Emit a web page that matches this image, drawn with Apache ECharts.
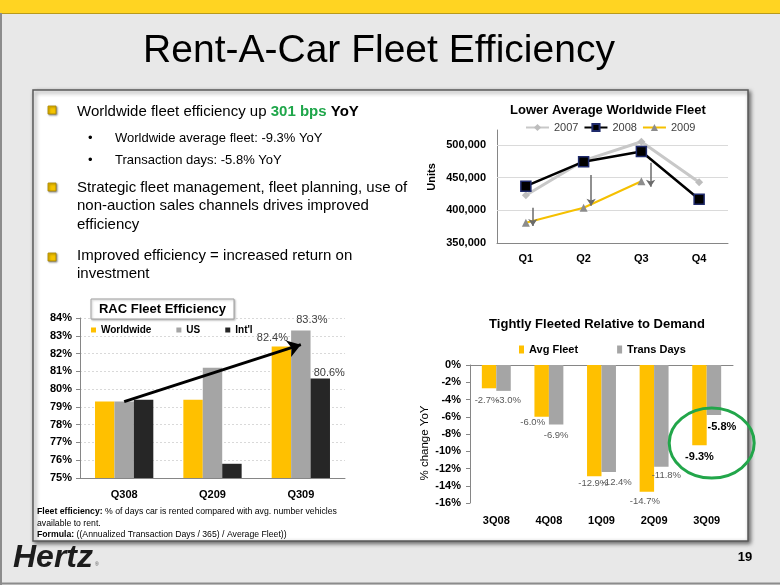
<!DOCTYPE html>
<html><head><meta charset="utf-8">
<script src="https://cdn.jsdelivr.net/npm/echarts@6/dist/echarts.min.js"></script>
<style>html,body{margin:0;padding:0;background:#e8e8e8;}#c{width:780px;height:585px;}</style>
</head><body><div id="c"></div><script>
// ---------- data ----------
const fleetQuarters = ['Q1', 'Q2', 'Q3', 'Q4'];
const fleet2007 = [423000, 476000, 505000, 443000];
const fleet2008 = [437000, 474500, 490000, 417000];
const fleet2009 = [381000, 404000, 444500];
const fleetTicks = [350000, 400000, 450000, 500000];
// drop arrows: [position along quarter axis, from value, to value]
const fleetDropArrows = [[0.62, 404000, 376000], [1.63, 454000, 407000], [2.66, 473000, 436000]];

const racPeriods = ['Q308', 'Q209', 'Q309'];
const racWorldwide = [79.3, 79.4, 82.4];
const racUS = [79.3, 81.2, 83.3];
const racIntl = [79.4, 75.8, 80.6];
const racTrendFrom = ['Q308', 79.3];
const racTrendTo = ['Q309', 82.5];

const demandPeriods = ['3Q08', '4Q08', '1Q09', '2Q09', '3Q09'];
const avgFleet = [-2.7, -6.0, -12.9, -14.7, -9.3];
const transDays = [-3.0, -6.9, -12.4, -11.8, -5.8];

// ---------- layout helpers (not data) ----------
const FF = "'Liberation Sans', Arial, Helvetica, sans-serif";
function hasFont(name) {
  const c = document.createElement('canvas').getContext('2d');
  c.font = '20px monospace'; const a = c.measureText('abcdefghijk WWW mmm').width;
  c.font = "20px '" + name + "', monospace"; return c.measureText('abcdefghijk WWW mmm').width !== a;
}
const narrow = hasFont('Liberation Sans Narrow');
const footFamily = narrow ? "'Liberation Sans Narrow', 'Liberation Sans', Arial" : FF;
const footSize = narrow ? 10.5 : 8.7;

const YELLOW = '#FFC000', GRAY = '#A5A5A5', BLACK = '#262626', AXIS = '#868686';
const fleetNudge = [[-2, 4], [-9, -2], [-1, -1], [-2, 2], [0, 3]];
const daysNudge = [[5, 1], [0, 2.5], [8, 2], [5, 1], [8, 3.5]];
const racNudge = { ww: [-9, 2], us: [11, 0], intl: [9, 5] };

function demandItems(vals, nudge) {
  return vals.map((v, i) => {
    const last = i === vals.length - 1;
    return {
      value: v,
      label: {
        show: true, position: 'bottom', distance: 3, offset: nudge[i],
        formatter: (p) => p.value.toFixed(1) + '%',
        fontFamily: FF, fontSize: last ? 11 : 9.5, fontWeight: last ? 'bold' : 'normal',
        color: last ? '#000' : '#595959'
      }
    };
  });
}
function racItems(vals, nudge) {
  return vals.map((v, i) => {
    const last = i === vals.length - 1;
    return last ? { value: v, label: { show: true, position: 'top', distance: 5, offset: nudge,
      formatter: (p) => p.value.toFixed(1) + '%', fontFamily: FF, fontSize: 11, color: '#404040' } } : v;
  });
}

const txt = (x, y, text, size, opts = {}) => Object.assign({
  type: 'text', x: x, y: y, z: 10,
  style: Object.assign({ text: text, fontSize: size, fontFamily: FF, fill: '#000', align: 'left', verticalAlign: 'middle' }, opts.style || {})
}, opts.el || {});

const bullet = (y) => ({ type: 'rect', z: 10, shape: { x: 48, y: y - 4, width: 8, height: 8 },
  style: { fill: '#F5C400', stroke: '#A88600', lineWidth: 0.8, shadowBlur: 2, shadowColor: 'rgba(0,0,0,0.45)', shadowOffsetX: 1, shadowOffsetY: 1 } });

const richBase = { fontSize: 15, fontFamily: FF, fill: '#000' };

const graphics = [
  // slide background details
  { type: 'rect', z: -20, shape: { x: 0, y: 0, width: 780, height: 13 }, style: { fill: '#FFD422' } },
  { type: 'line', z: -19, shape: { x1: 0, y1: 13.5, x2: 780, y2: 13.5 }, style: { stroke: '#B89A1C', lineWidth: 1 } },
  { type: 'line', z: -19, shape: { x1: 1, y1: 13, x2: 1, y2: 585 }, style: { stroke: '#8c8c8c', lineWidth: 2 } },
  { type: 'line', z: -19, shape: { x1: 0, y1: 583.5, x2: 780, y2: 583.5 }, style: { stroke: '#8c8c8c', lineWidth: 2 } },
  // white panel
  { type: 'rect', z: -15, shape: { x: 33, y: 90, width: 715, height: 451 },
    style: { fill: '#fff', stroke: '#5a5a5a', lineWidth: 1.5, shadowBlur: 4, shadowColor: 'rgba(0,0,0,0.55)', shadowOffsetX: 2, shadowOffsetY: 2 } },
  // title
  txt(379, 51, 'Rent-A-Car Fleet Efficiency', 39, { style: { align: 'center', fill: '#000' } }),
  // bullets
  bullet(110), bullet(187), bullet(257),
  { type: 'text', x: 77, y: 112, z: 10, style: {
      text: 'Worldwide fleet efficiency up {g|301 bps} {b|YoY}', fontSize: 15, fontFamily: FF, fill: '#000', verticalAlign: 'middle',
      rich: { g: Object.assign({}, richBase, { fill: '#1FA64A', fontWeight: 'bold' }), b: Object.assign({}, richBase, { fontWeight: 'bold' }) } } },
  txt(88, 138, '\u2022', 13),
  txt(115, 138, 'Worldwide average fleet: -9.3% YoY', 13),
  txt(88, 160, '\u2022', 13),
  txt(115, 160, 'Transaction days: -5.8% YoY', 13),
  txt(77, 188, 'Strategic fleet management, fleet planning, use of', 15),
  txt(77, 206, 'non-auction sales channels drives improved', 15),
  txt(77, 224.5, 'efficiency', 15),
  txt(77, 256, 'Improved efficiency = increased return on', 15),
  txt(77, 274, 'investment', 15),
  // chart titles
  txt(608, 110, 'Lower Average Worldwide Fleet', 13, { style: { align: 'center', fontWeight: 'bold' } }),
  txt(597, 324, 'Tightly Fleeted Relative to Demand', 13, { style: { align: 'center', fontWeight: 'bold' } }),
  { type: 'rect', z: 8, shape: { x: 91, y: 299, width: 143, height: 20 },
    style: { fill: '#fff', stroke: '#a0a0a0', lineWidth: 1, shadowBlur: 2, shadowColor: 'rgba(0,0,0,0.25)', shadowOffsetX: 1, shadowOffsetY: 1 } },
  txt(162.5, 309.5, 'RAC Fleet Efficiency', 13, { style: { align: 'center', fontWeight: 'bold' } }),
  // axis names
  txt(432, 177, 'Units', 11, { style: { align: 'center', fontWeight: 'bold' }, el: { rotation: Math.PI / 2 } }),
  txt(425, 443, '% change YoY', 11.5, { style: { align: 'center' }, el: { rotation: Math.PI / 2 } }),
  // footnote
  { type: 'text', x: 37, y: 512, z: 10, style: { text: '{b|Fleet efficiency:} % of days car is rented compared with avg. number vehicles',
      fontSize: footSize, fontFamily: footFamily, fill: '#000', verticalAlign: 'middle',
      rich: { b: { fontSize: footSize, fontFamily: footFamily, fontWeight: 'bold', fill: '#000' } } } },
  { type: 'text', x: 37, y: 523.5, z: 10, style: { text: 'available to rent.', fontSize: footSize, fontFamily: footFamily, fill: '#000', verticalAlign: 'middle' } },
  { type: 'text', x: 37, y: 535, z: 10, style: { text: '{b|Formula:} ((Annualized Transaction Days / 365) / Average Fleet))',
      fontSize: footSize, fontFamily: footFamily, fill: '#000', verticalAlign: 'middle',
      rich: { b: { fontSize: footSize, fontFamily: footFamily, fontWeight: 'bold', fill: '#000' } } } },
  // logo and page number
  txt(13, 558, 'Hertz', 32, { style: { fontWeight: 'bold', fontStyle: 'italic', fill: '#1c1c1c' } }),
  txt(95, 565, '\u00AE', 5, { style: { fill: '#555' } }),
  txt(745, 557, '19', 13, { style: { align: 'center', fontWeight: 'bold' } }),
  { type: 'ellipse', id: 'ring', z: 12, invisible: true, shape: { cx: 0, cy: 0, rx: 42.5, ry: 35 },
    style: { fill: 'none', stroke: '#22A64A', lineWidth: 3 } }
];

const boldAxisLabel = { fontFamily: FF, fontSize: 11, fontWeight: 'bold', color: '#000' };

const option = {
  animation: false,
  textStyle: { fontFamily: FF },
  graphic: { elements: graphics },
  grid: [
    { left: 497, right: 52, top: 130, bottom: 342, containLabel: false },
    { left: 80, right: 435, top: 318, bottom: 107, containLabel: false },
    { left: 470, right: 47, top: 365, bottom: 82, containLabel: false }
  ],
  legend: [
    { data: ['2007', '2008', '2009'], left: 520, top: 117, itemWidth: 23, itemHeight: 9, itemGap: 5,
      textStyle: { fontFamily: FF, fontSize: 11, color: '#404040' } },
    { data: ['Worldwide', 'US', "Int'l"], left: 86, top: 320, itemWidth: 5, itemHeight: 5, itemGap: 25, icon: 'rect',
      textStyle: { fontFamily: FF, fontSize: 10, fontWeight: 'bold', color: '#000' } },
    { data: ['Avg Fleet', 'Trans Days'], left: 514, top: 339, itemWidth: 5, itemHeight: 8, itemGap: 39, icon: 'rect',
      textStyle: { fontFamily: FF, fontSize: 11, fontWeight: 'bold', color: '#000' } }
  ],
  xAxis: [
    { gridIndex: 0, type: 'category', data: fleetQuarters, boundaryGap: true,
      axisLine: { lineStyle: { color: AXIS } }, axisTick: { length: 4, lineStyle: { color: AXIS } },
      axisLabel: Object.assign({ margin: 10 }, boldAxisLabel) },
    { gridIndex: 0, type: 'value', min: 0, max: 4, show: false },
    { gridIndex: 1, type: 'category', data: racPeriods, boundaryGap: true,
      axisLine: { lineStyle: { color: AXIS } }, axisTick: { length: 4, lineStyle: { color: AXIS } },
      axisLabel: Object.assign({ margin: 11 }, boldAxisLabel) },
    { gridIndex: 2, type: 'category', data: demandPeriods, position: 'top', boundaryGap: true,
      axisLine: { lineStyle: { color: AXIS } }, axisTick: { length: 4, lineStyle: { color: AXIS } },
      axisLabel: { show: false } },
    { gridIndex: 2, type: 'category', data: demandPeriods, position: 'bottom', boundaryGap: true,
      axisLine: { show: false, onZero: false }, axisTick: { show: false },
      axisLabel: Object.assign({ margin: 12 }, boldAxisLabel) }
  ],
  yAxis: [
    { gridIndex: 0, type: 'value', min: 350000, max: 523000, interval: 50000,
      axisLine: { show: true, lineStyle: { color: AXIS } }, axisTick: { show: false }, splitLine: { show: false },
      axisLabel: Object.assign({ margin: 11, formatter: (v) => (fleetTicks.indexOf(v) >= 0 ? v.toLocaleString('en-US') : '') }, boldAxisLabel) },
    { gridIndex: 1, type: 'value', min: 75, max: 84, interval: 1,
      axisLine: { show: true, lineStyle: { color: AXIS } }, axisTick: { show: true, length: 4, lineStyle: { color: AXIS } },
      splitLine: { show: true, lineStyle: { color: '#d9d9d9', type: [2, 2] } },
      axisLabel: Object.assign({ margin: 8, formatter: (v) => v + '%' }, boldAxisLabel) },
    { gridIndex: 2, type: 'value', min: -16, max: 0, interval: 2,
      axisLine: { show: true, lineStyle: { color: AXIS } }, axisTick: { show: true, length: 4, lineStyle: { color: AXIS } },
      splitLine: { show: false },
      axisLabel: Object.assign({ margin: 9, formatter: (v) => v + '%' }, boldAxisLabel) }
  ],
  series: [
    // gridlines of the fleet chart
    { type: 'line', xAxisIndex: 0, yAxisIndex: 0, data: [], silent: true, z: 1,
      markLine: { z: 1, silent: true, symbol: ['none', 'none'], label: { show: false },
        lineStyle: { color: '#dadada', width: 1, type: 'solid' },
        data: fleetTicks.filter(v => v > 350000).map(v => ({ yAxis: v })) } },
    { name: '2007', type: 'line', xAxisIndex: 0, yAxisIndex: 0, data: fleet2007, z: 2,
      symbol: 'diamond', symbolSize: 8, lineStyle: { color: '#C8C8C8', width: 3 }, itemStyle: { color: '#BDBDBD' } },
    { name: '2008', type: 'line', xAxisIndex: 0, yAxisIndex: 0, data: fleet2008, z: 3,
      symbol: 'rect', symbolSize: 10, lineStyle: { color: '#000', width: 2.5 },
      itemStyle: { color: '#000', borderColor: '#1F2A6B', borderWidth: 1.5 } },
    { name: '2009', type: 'line', xAxisIndex: 0, yAxisIndex: 0, data: fleet2009, z: 3,
      symbol: 'triangle', symbolSize: 8, lineStyle: { color: '#F5C000', width: 2 }, itemStyle: { color: '#8C8C8C' } },
    { type: 'lines', coordinateSystem: 'cartesian2d', xAxisIndex: 1, yAxisIndex: 0, z: 4,
      symbol: ['none', 'arrow'], symbolSize: 7,
      lineStyle: { color: '#6b6b6b', width: 1.5, opacity: 1 },
      data: fleetDropArrows.map(a => ({ coords: [[a[0], a[1]], [a[0], a[2]]] })) },
    // RAC fleet efficiency
    { name: 'Worldwide', type: 'bar', xAxisIndex: 2, yAxisIndex: 1, data: racItems(racWorldwide, racNudge.ww),
      barGap: '0%', barCategoryGap: '34%', itemStyle: { color: YELLOW } },
    { name: 'US', type: 'bar', xAxisIndex: 2, yAxisIndex: 1, data: racItems(racUS, racNudge.us),
      barGap: '0%', barCategoryGap: '34%', itemStyle: { color: GRAY },
      markLine: { silent: true, symbol: ['none', 'arrow'], symbolSize: 13, label: { show: false },
        lineStyle: { color: '#000', width: 3, type: 'solid' },
        data: [[{ coord: racTrendFrom }, { coord: racTrendTo }]] } },
    { name: "Int'l", type: 'bar', xAxisIndex: 2, yAxisIndex: 1, data: racItems(racIntl, racNudge.intl),
      barGap: '0%', barCategoryGap: '34%', itemStyle: { color: BLACK } },
    // demand
    { name: 'Avg Fleet', type: 'bar', xAxisIndex: 3, yAxisIndex: 2, data: demandItems(avgFleet, fleetNudge),
      barGap: '0%', barCategoryGap: '45%', itemStyle: { color: YELLOW } },
    { name: 'Trans Days', type: 'bar', xAxisIndex: 3, yAxisIndex: 2, data: demandItems(transDays, daysNudge),
      barGap: '0%', barCategoryGap: '45%', itemStyle: { color: GRAY } }
  ]
};

const chart = echarts.init(document.getElementById('c'), null, { renderer: 'canvas' });
chart.setOption(option);
const ringCenter = chart.convertToPixel({ xAxisIndex: 3, yAxisIndex: 2 }, [demandPeriods.length - 1, -9.05]);
chart.setOption({ graphic: { elements: [{ id: 'ring', invisible: false,
  shape: { cx: ringCenter[0] + 5, cy: ringCenter[1], rx: 42.5, ry: 35 } }] } });
</script></body></html>
